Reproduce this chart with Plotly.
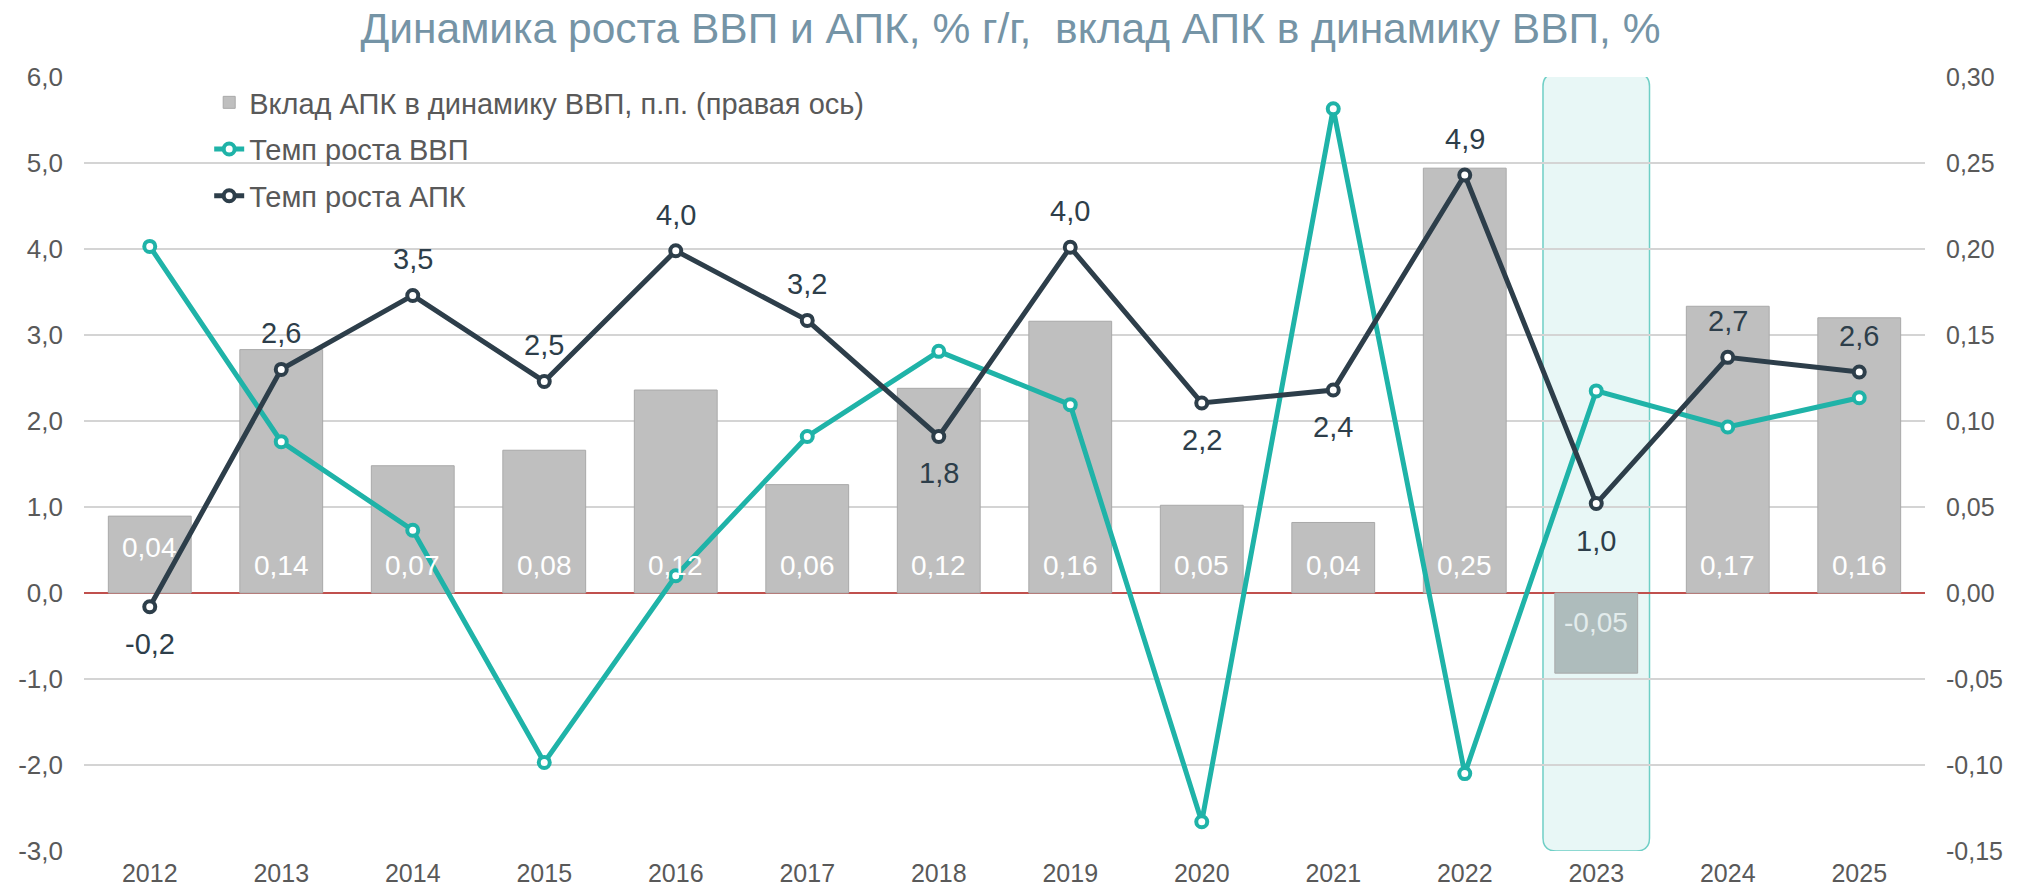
import plotly.graph_objects as go

# ---- data ----
years = [2012, 2013, 2014, 2015, 2016, 2017, 2018, 2019, 2020, 2021, 2022, 2023, 2024, 2025]
contrib_apk = [0.0447, 0.1415, 0.074, 0.083, 0.118, 0.063, 0.119, 0.158, 0.051, 0.041, 0.247, -0.0466, 0.1667, 0.160]
gdp_growth = [4.03, 1.76, 0.73, -1.97, 0.20, 1.82, 2.81, 2.19, -2.66, 5.63, -2.10, 2.35, 1.93, 2.27]
apk_growth = [-0.16, 2.60, 3.46, 2.46, 3.98, 3.17, 1.82, 4.02, 2.21, 2.36, 4.86, 1.04, 2.74, 2.57]
apk_label_pos = ["below", "above", "above", "above", "above", "above", "below",
                 "above", "below", "below", "above", "below", "above", "above"]
highlight_year = 2023
left_ticks = [-3, -2, -1, 0, 1, 2, 3, 4, 5, 6]
right_ticks = [-0.15, -0.10, -0.05, 0.0, 0.05, 0.10, 0.15, 0.20, 0.25, 0.30]

title = "Динамика роста ВВП и АПК, % г/г,  вклад АПК в динамику ВВП, %"
name_bar = "Вклад АПК в динамику ВВП, п.п. (правая ось)"
name_gdp = "Темп роста ВВП"
name_apk = "Темп роста АПК"

# ---- styles ----
FONT = "Liberation Sans, Arial, sans-serif"
TEAL = "#1fb3a8"
DARK = "#2d3e4a"
BAR = "#bfbfbf"
BAR_HL = "#aebcbc"
GRID = "#d4d4d4"
TICK = "#595959"

fmt = lambda v, d: f"{v:.{d}f}".replace(".", ",")

fig = go.Figure()

bar_colors = [BAR_HL if y == highlight_year else BAR for y in years]
fig.add_trace(go.Bar(
    x=years, y=contrib_apk, name=name_bar, yaxis="y",
    marker=dict(color=bar_colors, line=dict(color="#a9a9a9", width=1)),
    width=0.63, legendgroup="a",
))
fig.add_trace(go.Scatter(
    x=years, y=gdp_growth, name=name_gdp, yaxis="y2", mode="lines+markers",
    line=dict(color=TEAL, width=5),
    marker=dict(symbol="circle", size=11, color="white", line=dict(color=TEAL, width=4)),
    legendgroup="b",
))
fig.add_trace(go.Scatter(
    x=years, y=apk_growth, name=name_apk, yaxis="y2", mode="lines+markers",
    line=dict(color=DARK, width=5),
    marker=dict(symbol="circle", size=11, color="white", line=dict(color=DARK, width=4)),
    legendgroup="c",
))

annotations = []
# labels for APK growth line
for x, v, pos in zip(years, apk_growth, apk_label_pos):
    annotations.append(dict(
        x=x, y=v, xref="x", yref="y2", text=fmt(v, 1), showarrow=False,
        yshift=36 if pos == "above" else -37,
        font=dict(family=FONT, size=29, color=DARK),
    ))
# labels for bars
for x, v in zip(years, contrib_apk):
    shift = 28 if v >= 0 else -29
    if x == years[0]:
        shift = 46
    annotations.append(dict(
        x=x, y=0, xref="x", yref="y", text=fmt(v, 2), showarrow=False,
        yshift=shift,
        font=dict(family=FONT, size=28, color="#ffffff" if v >= 0 else "#e3ecec"),
    ))

# highlight rounded rectangle around highlighted year
hx0, hx1 = highlight_year - 0.405, highlight_year + 0.405
hy0, hy1 = -3.0, 6.04
rx, ry = 0.1, 0.15
path = (f"M {hx0+rx},{hy0} L {hx1-rx},{hy0} Q {hx1},{hy0} {hx1},{hy0+ry} "
        f"L {hx1},{hy1-ry} Q {hx1},{hy1} {hx1-rx},{hy1} "
        f"L {hx0+rx},{hy1} Q {hx0},{hy1} {hx0},{hy1-ry} "
        f"L {hx0},{hy0+ry} Q {hx0},{hy0} {hx0+rx},{hy0} Z")
shapes = [dict(type="path", path=path, xref="x", yref="y2", layer="below",
               fillcolor="rgba(31,179,168,0.10)", line=dict(color="#6fcfc6", width=1.5))]

fig.update_layout(
    template="none",
    width=2021, height=892,
    paper_bgcolor="white", plot_bgcolor="white",
    margin=dict(l=84, r=96, t=77, b=41, autoexpand=False),
    title=dict(text=title, x=0.5, xanchor="center", y=0.969, yanchor="middle",
               font=dict(family=FONT, size=42.5, color="#7594a6")),
    showlegend=True,
    legend=dict(x=0.068, y=1.0, xanchor="left", yanchor="top",
                traceorder="grouped", tracegroupgap=6,
                bgcolor="rgba(0,0,0,0)",
                font=dict(family=FONT, size=29, color=TICK)),
    xaxis=dict(range=[2011.5, 2025.5], tickmode="array", tickvals=years,
               ticktext=[str(y) for y in years], showgrid=False, zeroline=False,
               showline=False, ticks="", ticklabelstandoff=5, automargin=False,
               tickfont=dict(family=FONT, size=25, color=TICK)),
    yaxis=dict(range=[-0.15, 0.30], tickmode="array", tickvals=right_ticks,
               ticktext=[fmt(t, 2) for t in right_ticks], side="right",
               showgrid=True, gridcolor=GRID, gridwidth=2,
               zeroline=True, zerolinecolor="#c0504d", zerolinewidth=1.5,
               showline=False, ticks="", ticklabelstandoff=20, automargin=False,
               tickfont=dict(family=FONT, size=25, color=TICK)),
    yaxis2=dict(range=[-3, 6], tickmode="array", tickvals=left_ticks,
                ticktext=[fmt(t, 1) for t in left_ticks], side="left",
                overlaying="y", showgrid=False, zeroline=False, showline=False,
                ticks="", ticklabelstandoff=20, automargin=False,
                tickfont=dict(family=FONT, size=26, color=TICK)),
    annotations=annotations,
    shapes=shapes,
    bargap=0.37,
)

fig.write_html(
    "out.html",
    config={"displayModeBar": False},
    post_script="document.body.style.margin='0';document.body.style.overflow='hidden';",
)
